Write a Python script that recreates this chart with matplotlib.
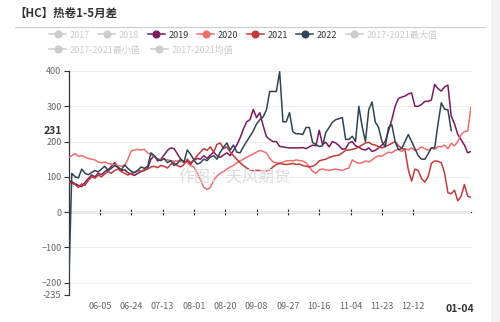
import numpy as np
import pandas as pd
import matplotlib
matplotlib.use("Agg")
import matplotlib.pyplot as plt
from matplotlib.lines import Line2D
from matplotlib.patches import Rectangle

plt.rcParams['font.family'] = ['Noto Sans CJK SC', 'DejaVu Sans']

# ---- data -------------------------------------------------------------
title = '【HC】热卷1-5月差'
first_day = '2021-05-17'
last_day = '2022-01-16'
tick_labels = ['06-05', '06-24', '07-13', '08-01', '08-20', '09-08',
               '09-27', '10-16', '11-04', '11-23', '12-12']
latest_label = '01-04'

legend_names = ['2017', '2018', '2019', '2020', '2021', '2022',
                '2017-2021最大值', '2017-2021最小值', '2017-2021均值']
active = ['2019', '2020', '2021', '2022']

# spread values, one reading every second day from 05-17
s2019 = [88, 86, 80, 76, 72, 84, 95, 105, 100, 110,
         106, 115, 120, 130, 140, 128, 118, 120, 112, 108,
         104, 110, 115, 118, 125, 150, 160, 145, 150, 162,
         175, 182, 180, 165, 150, 140, 145, 135, 148, 152,
         150, 160, 152, 162, 170, 160, 155, 162, 168, 160,
         175, 190, 210, 235, 256, 262, 291, 268, 282, 245,
         214, 206, 200, 200, 186, 185, 183, 182, 182, 182,
         182, 183, 180, 185, 190, 188, 232, 192, 198, 185,
         200, 196, 188, 178, 180, 196, 200, 188, 184, 178,
         176, 182, 172, 175, 182, 190, 200, 230, 262, 300,
         322, 326, 329, 335, 338, 300, 300, 305, 314, 314,
         318, 362, 350, 343, 355, 360, 272, 250, 220, 205,
         190, 168, 172]
s2020 = [155, 160, 166, 158, 160, 156, 152, 150, 148, 142,
         140, 142, 138, 136, 134, 132, 130, 131, 150, 173,
         176, 178, 176, 178, 168, 163, 158, 150, 149, 150,
         148, 146, 144, 145, 143, 144, 140, 132, 128, 110,
         92, 70, 64, 70, 90, 102, 110, 115, 122, 128,
         132, 140, 145, 150, 156, 160, 165, 170, 175, 172,
         168, 152, 142, 140, 138, 142, 145, 146, 145, 148,
         146, 145, 140, 128, 115, 110, 120, 122, 120, 118,
         120, 122, 120, 118, 122, 125, 148, 142, 138, 140,
         145, 142, 148, 155, 160, 158, 165, 170, 168, 175,
         178, 172, 180, 176, 182, 175, 178, 185, 180, 175,
         182, 178, 186, 185, 190, 180, 195, 188, 200, 220,
         228, 230, 297]
s2021 = [85, 82, 78, 70, 80, 76, 90, 100, 96, 105,
         100, 108, 115, 110, 118, 122, 115, 110, 105, 110,
         112, 118, 116, 120, 122, 128, 130, 126, 132, 130,
         125, 135, 140, 132, 128, 135, 150, 140, 148, 160,
         170, 180, 175, 185, 170, 192, 196, 180, 185, 170,
         160, 150, 140, 132, 125, 120, 118, 118, 118, 115,
         116, 120, 128, 135, 138, 136, 135, 136, 138, 135,
         136, 132, 130, 128, 130, 135, 145, 148, 150, 155,
         158, 160, 162, 168, 175, 176, 178, 180, 185, 190,
         196, 198, 192, 190, 185, 182, 186, 190, 195, 200,
         188, 182, 176, 120, 88, 122, 118, 95, 85, 100,
         138, 145, 144, 140, 110, 55, 52, 62, 32, 45,
         78, 45, 42]
s2022 = [-235, 110, 100, 97, 122, 110, 106, 112, 118, 114,
         122, 130, 118, 124, 132, 126, 120, 134, 124, 116,
         112, 118, 128, 124, 130, 168, 160, 150, 146, 152,
         140, 146, 132, 138, 150, 142, 176, 164, 148, 136,
         140, 150, 146, 156, 160, 150, 170, 184, 196, 176,
         190, 170, 168, 185, 200, 215, 230, 250, 262, 270,
         290, 342, 342, 342, 398, 256, 256, 282, 228, 222,
         222, 220, 240, 240, 197, 192, 186, 188, 226, 240,
         255, 262, 265, 268, 206, 206, 215, 200, 300, 243,
         200, 290, 312, 255, 240, 200, 185, 240, 248, 200,
         177, 180, 200, 220, 200, 180, 160, 150, 150, 165,
         182, 182, 250, 310, 292, 290, 231]

# ---- styling ----------------------------------------------------------
colors = {'2019': '#7b1a5e', '2020': '#f26d6d', '2021': '#c23a3a',
          '2022': '#2f4554'}
inactive_color = '#cccccc'
label_color = '#666666'
dark = '#333333'

days = pd.date_range(first_day, last_day, freq='D').strftime('%m-%d').tolist()
pos = {d: i for i, d in enumerate(days)}
sample_pos = np.arange(0, len(days), 2)

fig = plt.figure(figsize=(5.0, 3.22), dpi=100)
W, H = 500.0, 322.0
ax = fig.add_axes([68.5 / W, 1 - 295 / H, (471 - 68.5) / W, (295 - 71) / H])
ax.set_xlim(0, len(days) - 1)
ax.set_ylim(-235, 400)

series = {'2019': s2019, '2020': s2020, '2021': s2021, '2022': s2022}
for name in active:
    vals = series[name]
    ax.plot(sample_pos[:len(vals)], vals, color=colors[name], lw=1.1,
            solid_joinstyle='round', zorder=3)

# axes styling
for side in ['top', 'right', 'bottom']:
    ax.spines[side].set_visible(False)
ax.spines['left'].set_color(dark)
ax.spines['left'].set_linewidth(0.9)

ax.set_yticks([-200, -100, 0, 100, 200, 300, 400])
ax.set_yticks([-235], minor=True)
ax.set_yticklabels(['-235'], minor=True)
ax.tick_params(axis='y', which='both', colors=dark, labelcolor=label_color,
               labelsize=6.5, length=3.5, width=0.8, pad=1.5)
ax.yaxis.grid(True, which='major', color='#eeeeee', lw=0.8)
ax.set_axisbelow(True)

tick_pos = [pos[t] for t in tick_labels]
ax.set_xticks(tick_pos)
ax.set_xticklabels(tick_labels)
ax.tick_params(axis='x', length=0, labelsize=6.5, labelcolor=label_color, pad=5)

# zero axis line with category ticks
zero_frac = (0 - (-235)) / (400 - (-235))
zax = ax.secondary_xaxis(zero_frac)
zax.set_xticks(tick_pos)
zax.set_xticklabels([])
zax.spines['bottom'].set_color(dark)
zax.spines['bottom'].set_linewidth(0.9)
zax.tick_params(axis='x', direction='inout', length=4, width=0.8, colors=dark)

# latest value markers on the axes
last_val = s2022[-1]
ax.text(-0.016, last_val, str(last_val), transform=ax.get_yaxis_transform(),
        ha='right', va='center', fontsize=7.5, fontweight='bold', color=dark,
        bbox=dict(boxstyle='square,pad=0.15', fc='white', ec='none'))
ax.annotate(latest_label, xy=(pos[latest_label], 0),
            xycoords=ax.get_xaxis_transform(), xytext=(6.5, -10),
            textcoords='offset points', ha='center', va='center',
            fontsize=7.5, fontweight='bold', color=dark)

# watermark
fig.text(234 / W, 1 - 177 / H, '作图：天风期货', fontsize=11.5, color='#dcdcdc',
         ha='center', va='center', zorder=1)

# title and separator
fig.text(14 / W, 1 - 13 / H, title, fontsize=8.3, fontweight='bold',
         color=dark, ha='left', va='center')
fig.add_artist(Line2D([15 / W, 485 / W], [1 - 27 / H, 1 - 27 / H],
                      color='#cccccc', lw=0.8))

# legend rows
def handle(name):
    c = colors[name] if name in active else inactive_color
    return Line2D([], [], color=c, lw=1.1, marker='o', markersize=4.8,
                  markerfacecolor=c, markeredgecolor=c)

row1 = legend_names[:7]
row2 = legend_names[7:]
for names, y, spacing in [(row1, 35, 0.92), (row2, 50, 1.15)]:
    leg = fig.legend([handle(n) for n in names], names, loc='center left',
                     bbox_to_anchor=(49 / W, 1 - y / H), ncol=len(names),
                     frameon=False, fontsize=6.5, handlelength=1.9,
                     handletextpad=0.4, columnspacing=spacing, borderpad=0,
                     borderaxespad=0)
    for txt, n in zip(leg.get_texts(), names):
        txt.set_color(dark if n in active else inactive_color)

# right-hand panel strip
fig.patches.append(Rectangle((491 / W, 0), 9 / W, 1, transform=fig.transFigure,
                             facecolor='#f2f2f2', edgecolor='none', zorder=0))

fig.savefig('out.png', dpi=100)
